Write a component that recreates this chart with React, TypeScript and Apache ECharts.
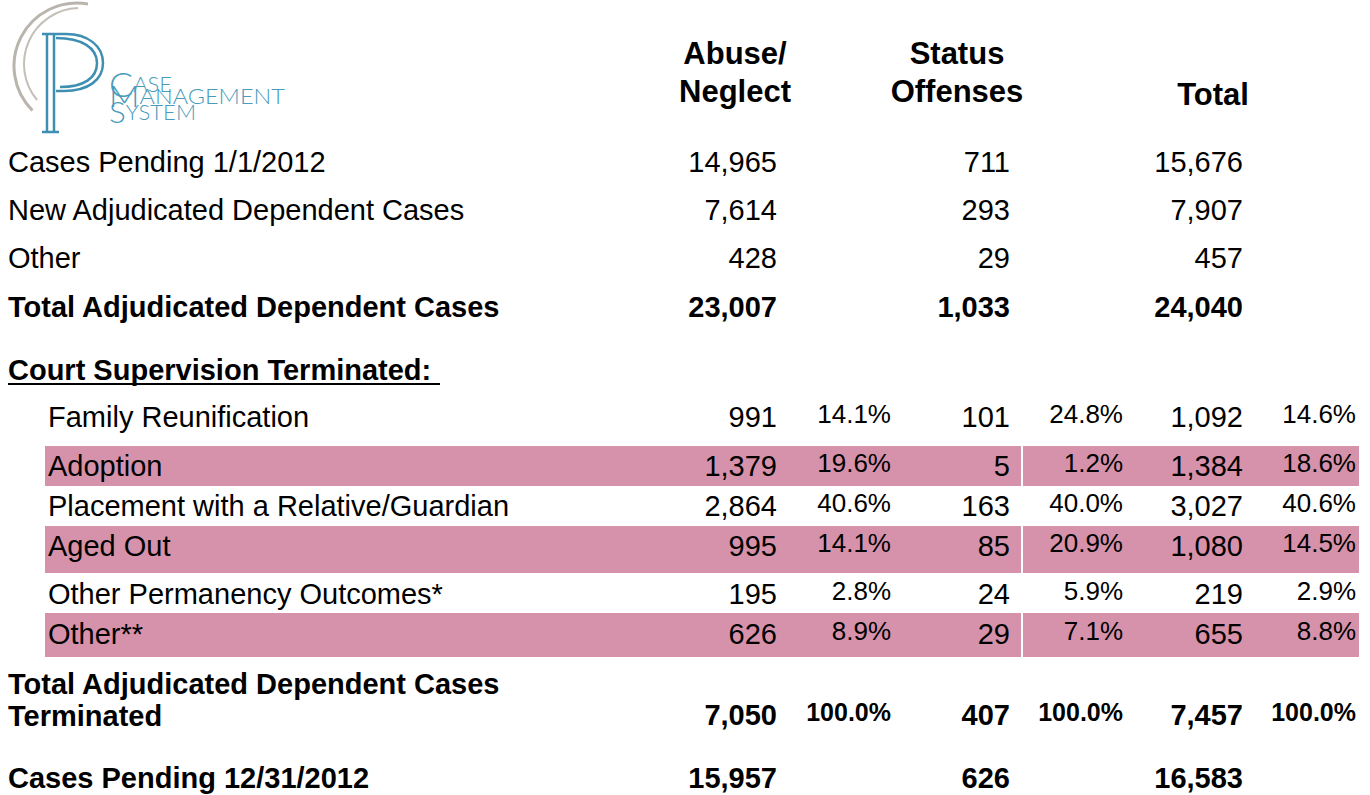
import React, { useEffect, useRef } from "react";
import * as echarts from "echarts";

// ---------- DATA ----------
const columnHeaders = [["Abuse/", "Neglect"], ["Status", "Offenses"], ["", "Total"]];

const summaryLabels = [
  "Cases Pending 1/1/2012",
  "New Adjudicated Dependent Cases",
  "Other",
  "Total Adjudicated Dependent Cases",
];
const summaryAbuse = [14965, 7614, 428, 23007];
const summaryStatus = [711, 293, 29, 1033];
const summaryTotal = [15676, 7907, 457, 24040];
const summaryBold = [false, false, false, true];

const sectionTitle = "Court Supervision Terminated:";

const outcomeLabels = [
  "Family Reunification",
  "Adoption",
  "Placement with a Relative/Guardian",
  "Aged Out",
  "Other Permanency Outcomes*",
  "Other**",
];
const outcomeAbuse = [991, 1379, 2864, 995, 195, 626];
const outcomeAbusePct = [14.1, 19.6, 40.6, 14.1, 2.8, 8.9];
const outcomeStatus = [101, 5, 163, 85, 24, 29];
const outcomeStatusPct = [24.8, 1.2, 40.0, 20.9, 5.9, 7.1];
const outcomeTotal = [1092, 1384, 3027, 1080, 219, 655];
const outcomeTotalPct = [14.6, 18.6, 40.6, 14.5, 2.9, 8.8];

const terminatedLabel = ["Total Adjudicated Dependent Cases", "Terminated"];
const terminatedValues = [7050, 407, 7457];
const terminatedPct = [100.0, 100.0, 100.0];

const pendingEndLabel = "Cases Pending 12/31/2012";
const pendingEndValues = [15957, 626, 16583];

const logoLines = [["C", "ASE"], ["M", "ANAGEMENT"], ["S", "YSTEM"]];

// ---------- LAYOUT ----------
const W = 1370;
const H = 795;
const FONT = '"Liberation Sans", Arial, Helvetica, sans-serif';
const colRight = [777, 1010, 1243];
const pctRight = [891, 1123, 1356];
const headerCenter = [735, 957, 1213];
const headerLineY = [53, 91];
const summaryY = [162, 210, 258, 307];
const sectionY = 370;
const outcomeY = [417, 466, 506, 546, 594, 634];
const bands: (number[] | null)[] = [null, [446, 486], null, [526, 573], null, [613, 657]];
const terminatedLabelY = [684, 716];
const terminatedY = 715;
const pendingEndY = 778;
const pctOffset = -3;
const PINK = "#d692aa";
const TEAL = "#4a9bbb";

const fmt = (n: number) => n.toLocaleString("en-US");
const fmtPct = (n: number) => n.toFixed(1) + "%";

echarts.graphic.registerShape(
  "cpLetterP",
  echarts.graphic.extendPath(
    "M47 34 L47 132 M54 34 L54 132 M42 132 L59 132 M42 34 L66 34 C88 34 103 46 103 63 C103 80 88 91 64 91 L56 91 M56 38 C82 38 97 48 97 63 C97 78 84 87 60 87",
    {}
  )
);

function txt(
  text: string,
  x: number,
  y: number,
  size: number,
  opts: { bold?: boolean; align?: string; fill?: string; family?: string; weight?: string } = {}
) {
  const weight = opts.weight ?? (opts.bold ? "bold" : "normal");
  return {
    type: "text",
    x,
    y,
    silent: true,
    style: {
      text,
      fill: opts.fill ?? "#000",
      font: `${weight} ${size}px ${opts.family ?? FONT}`,
      align: opts.align ?? "left",
      verticalAlign: "middle",
      textAlign: opts.align ?? "left",
      textVerticalAlign: "middle",
    },
  };
}

function buildGraphic() {
  const els: any[] = [];

  // Logo
  els.push({
    type: "arc",
    silent: true,
    shape: { cx: 77, cy: 66, r: 63, startAngle: (135 * Math.PI) / 180, endAngle: (280 * Math.PI) / 180, clockwise: true },
    style: { stroke: "#b9b4ac", lineWidth: 3, fill: "none" },
  });
  els.push({
    type: "arc",
    silent: true,
    shape: { cx: 80, cy: 64, r: 56, startAngle: (140 * Math.PI) / 180, endAngle: (268 * Math.PI) / 180, clockwise: true },
    style: { stroke: "#c4bfb8", lineWidth: 2, fill: "none" },
  });
  els.push({
    type: "cpLetterP",
    silent: true,
    x: 0,
    y: 0,
    style: { stroke: "#3f8fb2", lineWidth: 2.5, fill: "none" },
  });
  const logoX = 109;
  const logoBase = [99, 111, 127];
  logoLines.forEach((pair, i) => {
    els.push({
      type: "text",
      silent: true,
      x: logoX,
      y: logoBase[i],
      scaleX: i === 1 ? 1.12 : 1.05,
      style: {
        text: `{b|${pair[0]}}{s|${pair[1]}}`,
        fill: TEAL,
        align: "left",
        verticalAlign: "bottom",
        textAlign: "left",
        textVerticalAlign: "bottom",
        rich: {
          b: { fontSize: i === 0 ? 34 : 30, fontFamily: "Lato", fontWeight: 300, fill: TEAL, color: TEAL, lineHeight: 30 },
          s: { fontSize: 21, fontFamily: "Lato", fontWeight: 300, fill: TEAL, color: TEAL, lineHeight: 30 },
        },
      },
    });
  });

  // Headers
  columnHeaders.forEach((lines, c) => {
    lines.forEach((line, l) => {
      if (!line) return;
      els.push(txt(line, headerCenter[c], c === 2 ? headerLineY[l] + 3 : headerLineY[l], 31, { bold: true, align: "center" }));
    });
  });

  // Summary rows
  summaryLabels.forEach((label, i) => {
    const y = summaryY[i];
    const b = summaryBold[i];
    els.push(txt(label, 8, y, 29, { bold: b }));
    [summaryAbuse[i], summaryStatus[i], summaryTotal[i]].forEach((v, c) => {
      els.push(txt(fmt(v), colRight[c], y, 29, { bold: b, align: "right" }));
    });
  });

  // Section title
  els.push(txt(sectionTitle, 8, sectionY, 29, { bold: true }));
  els.push({
    type: "line",
    silent: true,
    shape: { x1: 8, y1: 384, x2: 440, y2: 384 },
    style: { stroke: "#000", lineWidth: 2 },
  });

  // Bands
  bands.forEach((b) => {
    if (!b) return;
    els.push({ type: "rect", silent: true, shape: { x: 45, y: b[0], width: 1021 - 45, height: b[1] - b[0] }, style: { fill: PINK } });
    els.push({ type: "rect", silent: true, shape: { x: 1023, y: b[0], width: 1359 - 1023, height: b[1] - b[0] }, style: { fill: PINK } });
  });

  // Outcome rows
  outcomeLabels.forEach((label, i) => {
    const y = outcomeY[i];
    els.push(txt(label, 48, y, 29));
    const vals = [outcomeAbuse[i], outcomeStatus[i], outcomeTotal[i]];
    const pcts = [outcomeAbusePct[i], outcomeStatusPct[i], outcomeTotalPct[i]];
    vals.forEach((v, c) => {
      els.push(txt(fmt(v), colRight[c], y, 29, { align: "right" }));
      els.push(txt(fmtPct(pcts[c]), pctRight[c], y + pctOffset, 26, { align: "right" }));
    });
  });

  // Terminated total
  terminatedLabel.forEach((line, l) => {
    els.push(txt(line, 8, terminatedLabelY[l], 29, { bold: true }));
  });
  terminatedValues.forEach((v, c) => {
    els.push(txt(fmt(v), colRight[c], terminatedY, 29, { bold: true, align: "right" }));
    els.push(txt(fmtPct(terminatedPct[c]), pctRight[c], terminatedY + pctOffset, 25, { bold: true, align: "right" }));
  });

  // Pending end
  els.push(txt(pendingEndLabel, 8, pendingEndY, 29, { bold: true }));
  pendingEndValues.forEach((v, c) => {
    els.push(txt(fmt(v), colRight[c], pendingEndY, 29, { bold: true, align: "right" }));
  });

  return els;
}

export default function App() {
  const ref = useRef<HTMLDivElement>(null);
  useEffect(() => {
    document.body.style.margin = "0";
    if (!ref.current) return;
    const chart = echarts.init(ref.current, null, { renderer: "svg" });
    chart.setOption({
      animation: false,
      backgroundColor: "#ffffff",
      graphic: { elements: buildGraphic() },
    });
    return () => chart.dispose();
  }, []);
  return <div ref={ref} style={{ width: W, height: H }} />;
}
